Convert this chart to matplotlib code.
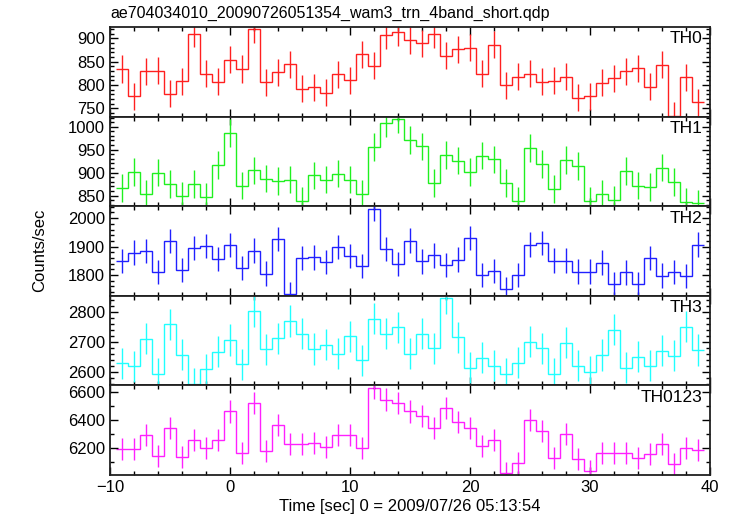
import numpy as np
import matplotlib
matplotlib.use("Agg")
import matplotlib.pyplot as plt
from matplotlib.ticker import MultipleLocator

plt.rcParams['font.family'] = ['Liberation Sans', 'DejaVu Sans']

# time bin centres [sec], 1 s bins
time = np.arange(-9, 40)
bin_width = 1.0

th0 = [834, 776, 829, 830, 781, 808, 910, 824, 807, 854, 834, 919, 806, 827, 844, 792, 795,
       783, 823, 810, 866, 841, 906, 913, 896, 889, 909, 862, 876, 880, 824, 886, 799, 817,
       824, 807, 809, 817, 772, 776, 805, 814, 829, 836, 796, 843, 734, 816, 763]
th1 = [867, 902, 854, 900, 875, 850, 875, 847, 917, 986, 872, 905, 887, 882, 885, 839, 894,
       885, 898, 885, 854, 956, 1007, 1017, 971, 957, 877, 938, 926, 902, 937, 929, 877, 839,
       954, 919, 864, 928, 915, 838, 854, 841, 903, 872, 869, 911, 880, 836, 833]
th2 = [1849, 1879, 1884, 1811, 1920, 1818, 1895, 1902, 1857, 1905, 1824, 1886, 1805, 1927,
       1732, 1860, 1862, 1846, 1898, 1867, 1832, 2033, 1892, 1839, 1921, 1848, 1869, 1835,
       1854, 1931, 1801, 1814, 1751, 1800, 1907, 1912, 1851, 1851, 1812, 1812, 1844, 1768,
       1809, 1768, 1860, 1798, 1811, 1797, 1907]
th3 = [2630, 2620, 2712, 2596, 2759, 2659, 2562, 2610, 2669, 2707, 2627, 2802, 2676, 2713,
       2771, 2729, 2678, 2692, 2662, 2720, 2640, 2778, 2729, 2749, 2662, 2729, 2680, 2846,
       2716, 2616, 2649, 2622, 2596, 2632, 2702, 2680, 2596, 2699, 2622, 2602, 2658, 2742,
       2616, 2652, 2622, 2672, 2656, 2752, 2674]
th0123 = [6188, 6188, 6289, 6141, 6341, 6134, 6254, 6195, 6254, 6459, 6162, 6520, 6179, 6360,
          6228, 6224, 6235, 6207, 6289, 6289, 6198, 6626, 6544, 6522, 6459, 6428, 6341, 6482,
          6384, 6341, 6212, 6252, 6019, 6092, 6398, 6322, 6127, 6299, 6120, 6033, 6165, 6165,
          6165, 6129, 6155, 6226, 6085, 6200, 6186]

# typical 1-sigma error per band
errors = [29, 30, 43, 52, 79]

names = ["TH0", "TH1", "TH2", "TH3", "TH0123"]
series = [th0, th1, th2, th3, th0123]
colors = ["#ff2020", "#20f020", "#2020ff", "#20ffff", "#ff20ff"]
ylims = [(732, 924), (827, 1022), (1727, 2042), (2557, 2854), (6005, 6645)]
major = [50, 50, 100, 100, 200]
minor = [10, 10, 20, 20, 100]

title = "ae704034010_20090726051354_wam3_trn_4band_short.qdp"
xlabel = "Time [sec] 0 = 2009/07/26 05:13:54"
ylabel = "Counts/sec"

W, H = 732, 516
fig = plt.figure(figsize=(W / 100, H / 100), dpi=100)

left, right = 110, 710
top, bottom = 27, 475
ph = (bottom - top) / 5.0

edges = np.append(time - bin_width / 2, time[-1] + bin_width / 2)

axes = []
for i in range(5):
    y0 = top + i * ph
    ax = fig.add_axes([left / W, 1 - (y0 + ph) / H, (right - left) / W, ph / H])
    vals = np.array(series[i], dtype=float)
    ax.stairs(vals, edges, baseline=None, color=colors[i], lw=1.0)
    ax.errorbar(time, vals, yerr=errors[i], fmt='none', ecolor=colors[i], elinewidth=1.0)
    ax.set_xlim(-10, 40)
    ax.set_ylim(*ylims[i])
    ax.xaxis.set_major_locator(MultipleLocator(10))
    ax.xaxis.set_minor_locator(MultipleLocator(2))
    ax.yaxis.set_major_locator(MultipleLocator(major[i]))
    ax.yaxis.set_minor_locator(MultipleLocator(minor[i]))
    ax.tick_params(which='both', direction='in', top=True, right=True, labelsize=12,
                   color='black', width=1)
    ax.tick_params(which='major', length=6)
    ax.tick_params(which='minor', length=3)
    for s in ax.spines.values():
        s.set_linewidth(1.3)
        s.set_color('#202020')
    if i < 4:
        ax.tick_params(labelbottom=False)
    ax.text(0.988, 0.95, names[i], transform=ax.transAxes, ha='right', va='top',
            fontsize=12.5)
    axes.append(ax)

fig.text(left / W, 1 - 13 / H, title, ha='left', va='center', fontsize=11.5)
fig.text(410 / W, 1 - 507 / H, xlabel, ha='center', va='center', fontsize=12)
fig.text(40 / W, 1 - 250 / H, ylabel, ha='center', va='center', rotation=90, fontsize=12)

fig.savefig("out.png", dpi=100)
